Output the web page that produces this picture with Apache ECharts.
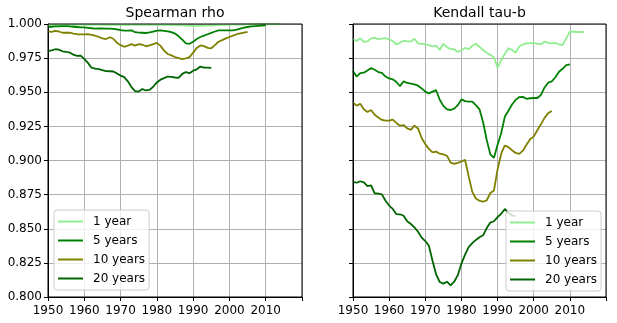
<!DOCTYPE html>
<html><head><meta charset="utf-8">
<script src="https://cdn.jsdelivr.net/npm/echarts/dist/echarts.min.js"></script>
<style>html,body{margin:0;padding:0;background:#fff}#c{width:617px;height:323px}</style>
</head><body><div id="c"></div>
<script>
const startYear = 1950;
const panelTitles = ['Spearman rho', 'Kendall tau-b'];
const seriesNames = ['1 year', '5 years', '10 years', '20 years'];
const seriesColors = ['#90ee90', '#008000', '#808000', '#006400'];

// Spearman rho, yearly values from 1950
const spearman1 = [0.9993,0.9993,0.9994,0.9994,0.9995,0.9995,0.9994,0.9994,0.9995,0.9995,
  0.9995,0.9994,0.9994,0.9995,0.9995,0.9994,0.9994,0.9995,0.9994,0.9994,
  0.9994,0.9993,0.9993,0.9994,0.9993,0.9993,0.9994,0.9993,0.9993,0.9993,
  0.9994,0.9993,0.9993,0.9993,0.9992,0.9992,0.9991,0.9990,0.9989,0.9987,
  0.9986,0.9988,0.9987,0.9988,0.9989,0.9988,0.9990,0.9992,0.9993,0.9994,
  0.9995,0.9995,0.9996,0.9996,0.9996,0.9997,0.9997,0.9997,0.9998,0.9998,
  0.9998,0.9998,0.9998,0.9998,0.9998];
const spearman5 = [0.9978,0.9980,0.9982,0.9983,0.9984,0.9985,0.9982,0.9980,0.9978,0.9976,
  0.9975,0.9972,0.9969,0.9966,0.9968,0.9967,0.9966,0.9966,0.9964,0.9960,
  0.9955,0.9951,0.9952,0.9954,0.9940,0.9937,0.9936,0.9934,0.9938,0.9945,
  0.9952,0.9953,0.9950,0.9946,0.9941,0.9930,0.9910,0.9885,0.9858,0.9855,
  0.9870,0.9890,0.9905,0.9915,0.9925,0.9935,0.9945,0.9953,0.9954,0.9953,
  0.9953,0.9954,0.9958,0.9966,0.9973,0.9978,0.9982,0.9985,0.9987,0.9989,
  0.9990];
const spearman10 = [0.9946,0.9942,0.9950,0.9945,0.9936,0.9937,0.9936,0.9930,0.9925,0.9924,
  0.9924,0.9925,0.9920,0.9914,0.9905,0.9895,0.9890,0.9903,0.9892,0.9862,
  0.9845,0.9833,0.9842,0.9852,0.9842,0.9852,0.9848,0.9837,0.9843,0.9852,
  0.9862,0.9840,0.9805,0.9780,0.9770,0.9758,0.9750,0.9742,0.9748,0.9757,
  0.9790,0.9825,0.9843,0.9838,0.9825,0.9822,0.9845,0.9870,0.9882,0.9895,
  0.9905,0.9915,0.9925,0.9932,0.9937,0.9942];
const spearman20 = [0.9802,0.9807,0.9815,0.9812,0.9800,0.9795,0.9791,0.9775,0.9767,0.9768,
  0.9745,0.9715,0.9680,0.9673,0.9670,0.9662,0.9655,0.9654,0.9652,0.9638,
  0.9622,0.9611,0.9580,0.9538,0.9508,0.9505,0.9523,0.9513,0.9517,0.9540,
  0.9572,0.9592,0.9603,0.9615,0.9612,0.9608,0.9605,0.9635,0.9648,0.9640,
  0.9658,0.9668,0.9688,0.9681,0.9680,0.9679];

// Kendall tau-b, yearly values from 1950
const kendall1 = [0.9890,0.9875,0.9895,0.9870,0.9872,0.9895,0.9898,0.9890,0.9893,0.9897,
  0.9888,0.9875,0.9850,0.9862,0.9878,0.9872,0.9872,0.9892,0.9858,0.9855,
  0.9850,0.9845,0.9836,0.9841,0.9810,0.9855,0.9830,0.9816,0.9815,0.9795,
  0.9808,0.9825,0.9815,0.9840,0.9855,0.9832,0.9810,0.9790,0.9775,0.9755,
  0.9680,0.9735,0.9780,0.9822,0.9810,0.9790,0.9835,0.9850,0.9858,0.9860,
  0.9860,0.9856,0.9850,0.9872,0.9862,0.9858,0.9862,0.9850,0.9845,0.9895,
  0.9943,0.9945,0.9941,0.9943,0.9941];
const kendall5 = [0.9655,0.9615,0.9640,0.9643,0.9660,0.9678,0.9665,0.9648,0.9642,0.9615,
  0.9601,0.9595,0.9575,0.9545,0.9580,0.9568,0.9563,0.9558,0.9548,0.9528,
  0.9505,0.9492,0.9505,0.9515,0.9445,0.9400,0.9375,0.9370,0.9380,0.9405,
  0.9448,0.9435,0.9432,0.9432,0.9405,0.9375,0.9280,0.9150,0.9045,0.9020,
  0.9115,0.9200,0.9320,0.9365,0.9410,0.9444,0.9465,0.9466,0.9452,0.9456,
  0.9458,0.9458,0.9480,0.9535,0.9570,0.9580,0.9610,0.9650,0.9672,0.9698,
  0.9705];
const kendall10 = [0.9424,0.9402,0.9415,0.9375,0.9355,0.9370,0.9335,0.9315,0.9297,0.9292,
  0.9292,0.9300,0.9275,0.9255,0.9260,0.9235,0.9225,0.9255,0.9235,0.9165,
  0.9120,0.9085,0.9060,0.9065,0.9050,0.9045,0.9035,0.8985,0.8975,0.8982,
  0.8993,0.9005,0.8885,0.8770,0.8722,0.8705,0.8698,0.8708,0.8762,0.8780,
  0.8935,0.9050,0.9110,0.9098,0.9075,0.9055,0.9048,0.9072,0.9115,0.9155,
  0.9175,0.9222,0.9265,0.9312,0.9347,0.9362];
const kendall20 = [0.8844,0.8837,0.8848,0.8840,0.8812,0.8818,0.8760,0.8757,0.8752,0.8705,
  0.8670,0.8645,0.8607,0.8606,0.8595,0.8555,0.8535,0.8510,0.8478,0.8435,
  0.8410,0.8375,0.8265,0.8165,0.8110,0.8098,0.8112,0.8085,0.8112,0.8160,
  0.8245,0.8310,0.8365,0.8395,0.8418,0.8438,0.8452,0.8505,0.8545,0.8555,
  0.8585,0.8610,0.8645,0.8615,0.8598,0.8592];

const xMin = 1950, xMax = 2020, xStep = 10;
const yMin = 0.8, yMax = 1.0, yStep = 0.025;

const panels = [
  [spearman1, spearman5, spearman10, spearman20],
  [kendall1, kendall5, kendall10, kendall20]
];

const FONT = 'DejaVu Sans';
const gridPos = [{left: 48, top: 24, width: 254, height: 273}, {left: 353, top: 24, width: 253, height: 273}];

function toPairs(arr) { return arr.map((v, i) => [startYear + i, v]); }

const option = {
  animation: false,
  backgroundColor: '#fff',
  textStyle: {fontFamily: FONT},
  title: panelTitles.map((t, i) => ({
    text: t, left: gridPos[i].left + gridPos[i].width / 2, textAlign: 'center', top: 6, padding: 0,
    textStyle: {fontFamily: FONT, fontSize: 14, fontWeight: 'normal', color: '#000'}
  })),
  grid: gridPos.map(g => Object.assign({show: true, borderColor: '#000', borderWidth: 1, backgroundColor: 'transparent', z: 10}, g)),
  xAxis: gridPos.map((g, i) => ({
    type: 'value', gridIndex: i, min: xMin, max: xMax, interval: xStep,
    axisLine: {show: true, lineStyle: {color: '#000', width: 1}},
    axisTick: {show: true, inside: false, length: 4, lineStyle: {color: '#000'}},
    axisLabel: {show: true, margin: 8, fontFamily: FONT, fontSize: 12, color: '#000',
      formatter: v => (v >= xMax ? '' : String(v))},
    splitLine: {show: true, lineStyle: {color: '#b0b0b0', width: 1}}
  })),
  yAxis: gridPos.map((g, i) => ({
    type: 'value', gridIndex: i, min: yMin, max: yMax, interval: yStep,
    axisLine: {show: true, lineStyle: {color: '#000', width: 1}},
    axisTick: {show: true, inside: false, length: 4, lineStyle: {color: '#000'}},
    axisLabel: {show: i === 0, margin: 6, fontFamily: FONT, fontSize: 12, color: '#000',
      formatter: v => v.toFixed(3)},
    splitLine: {show: true, lineStyle: {color: '#b0b0b0', width: 1}}
  })),
  legend: [{left: 54, top: 210}, {left: 506, top: 211}].map(p => ({
    left: p.left, top: p.top, orient: 'vertical', data: seriesNames,
    icon: 'rect', itemWidth: 25, itemHeight: 2, itemGap: 0, padding: [2, 4, 2, 4],
    backgroundColor: 'rgba(255,255,255,0.8)', borderColor: '#cccccc', borderWidth: 1, borderRadius: 3,
    textStyle: {fontFamily: FONT, fontSize: 12, color: '#000', lineHeight: 19, padding: [0, 0, 0, 5]}
  })),
  series: []
};

panels.forEach((sets, p) => {
  sets.forEach((arr, k) => {
    option.series.push({
      type: 'line', name: seriesNames[k], xAxisIndex: p, yAxisIndex: p,
      data: toPairs(arr), symbol: 'none', showSymbol: false,
      lineStyle: {color: seriesColors[k], width: 1.8}, itemStyle: {color: seriesColors[k]},
      z: 2
    });
  });
});

const chart = echarts.init(document.getElementById('c'), null, {renderer: 'canvas'});
chart.setOption(option);
</script></body></html>
